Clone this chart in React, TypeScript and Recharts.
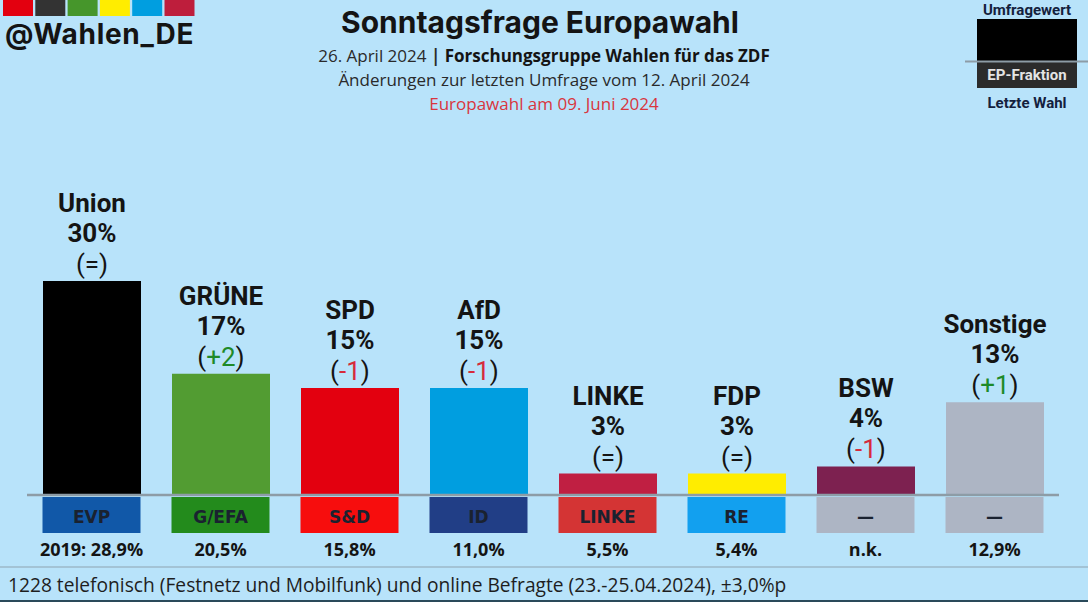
import { Bar, BarChart, Cell, LabelList, ReferenceLine, XAxis, YAxis } from "recharts";

// Sonntagsfrage Europawahl, Forschungsgruppe Wahlen, 26.04.2024
const parties = ["Union", "GRÜNE", "SPD", "AfD", "LINKE", "FDP", "BSW", "Sonstige"];
const shares = [30, 17, 15, 15, 3, 3, 4, 13];
const changes = ["=", "+2", "-1", "-1", "=", "=", "-1", "+1"];
const fractions = ["EVP", "G/EFA", "S&D", "ID", "LINKE", "RE", "—", "—"];
const lastElection: (number | null)[] = [28.9, 20.5, 15.8, 11.0, 5.5, 5.4, null, 12.9];

const barColors = ["#000000", "#529c32", "#e3000f", "#009ee0", "#c01f42", "#ffed00", "#7d2150", "#adb5c4"];
const fractionColors = ["#1158a8", "#238b1c", "#f70d0d", "#213e86", "#d43434", "#12a0ef", "#adb5c4", "#adb5c4"];
const logoColors = ["#e3000f", "#333333", "#46962b", "#ffed00", "#009ee0", "#be1e3c"];

const BG = "#b8e3fa";
const INK = "#141414";
const GREEN = "#1e8a28";
const RED = "#d62b3a";

const data = parties.map((party, i) => ({ party, share: shares[i] }));

const fmt = (v: number) => v.toFixed(1).replace(".", ",") + "%";

function BarLabel(props: any) {
  const { x, y, width, value } = props;
  const i = parties.indexOf(value);
  const cx = Number(x) + Number(width) / 2;
  const top = Number(y);
  const ch = changes[i];
  const col = ch.startsWith("+") ? GREEN : ch.startsWith("-") ? RED : INK;
  return (
    <g fontFamily="Roboto" textAnchor="middle">
      <text x={cx} y={top - 69} fontSize={26} fontWeight={700} fill={INK}>
        {value}
      </text>
      <text x={cx} y={top - 39} fontSize={26} fontWeight={700} fill={INK}>
        {shares[i]}%
      </text>
      <text x={cx} y={top - 8} fontSize={26} fill={INK}>
        (<tspan fill={col}>{ch}</tspan>)
      </text>
    </g>
  );
}

function FractionTick(props: any) {
  const { x, y, payload } = props;
  const i = payload.index;
  const last = lastElection[i];
  const lastText = last == null ? "n.k." : (i === 0 ? "2019: " : "") + fmt(last);
  return (
    <g textAnchor="middle">
      <rect x={x - 49} y={y + 2} width={98} height={36} fill={fractionColors[i]} />
      <text x={x} y={y + 28} fontFamily="DejaVu Sans" fontSize={17} fontWeight={700} fill="#1a2230">
        {fractions[i]}
      </text>
      <text x={x} y={y + 61} fontFamily="Open Sans" fontSize={18} fontWeight={700} fill={INK}>
        {lastText}
      </text>
    </g>
  );
}

export default function App() {
  return (
    <div style={{ position: "relative", width: 1088, height: 602, background: BG, overflow: "hidden" }}>
      <style>{"body{margin:0}"}</style>
      <BarChart
        width={1088}
        height={602}
        data={data}
        margin={{ top: 281, right: 29, bottom: 0, left: 27 }}
      >
        <YAxis hide domain={[0, 30]} />
        <XAxis
          dataKey="party"
          height={107}
          axisLine={false}
          tickLine={false}
          tickSize={0}
          tickMargin={0}
          interval={0}
          tick={<FractionTick />}
        />
        <Bar dataKey="share" barSize={98} isAnimationActive={false}>
          {data.map((_, i) => (
            <Cell key={i} fill={barColors[i]} />
          ))}
          <LabelList dataKey="party" content={<BarLabel />} />
        </Bar>
        <ReferenceLine y={0} stroke="#8d9ca6" strokeWidth={2.5} />
      </BarChart>

      <svg width={1088} height={602} style={{ position: "absolute", left: 0, top: 0, pointerEvents: "none" }}>
        {logoColors.map((c, i) => (
          <rect key={c} x={3 + i * 32.3} y={0} width={30} height={16} fill={c} />
        ))}
        <text x={5} y={44} fontFamily="Inter" fontSize={28} fontWeight={700} letterSpacing={0.7} fill={INK}>
          @Wahlen_DE
        </text>

        <g textAnchor="middle">
          <text x={540} y={33} fontFamily="Inter" fontSize={30} fontWeight={700} fill={INK}>
            Sonntagsfrage Europawahl
          </text>
          <text x={544} y={62} fontFamily="Open Sans" fontSize={17} fill="#2a2a2a">
            26. April 2024 <tspan fontWeight={700}>|</tspan>{" "}
            <tspan fontWeight={700} fill={INK}>Forschungsgruppe Wahlen für das ZDF</tspan>
          </text>
          <text x={544} y={86} fontFamily="Open Sans" fontSize={17} fill="#2a2a2a">
            Änderungen zur letzten Umfrage vom 12. April 2024
          </text>
          <text x={544} y={110} fontFamily="Open Sans" fontSize={17} fill="#d9363e">
            Europawahl am 09. Juni 2024
          </text>
        </g>

        <g textAnchor="middle" fontFamily="Roboto" fontSize={15} fontWeight={700}>
          <text x={1027} y={15} fill="#14213d">Umfragewert</text>
          <rect x={977} y={19} width={100} height={42} fill="#000000" />
          <rect x={977} y={62} width={100} height={26} fill="#2b2b2b" />
          <line x1={965} x2={1088} y1={61.5} y2={61.5} stroke="#8d9ca6" strokeWidth={2} />
          <text x={1027} y={80} fill="#e4e4e4">EP-Fraktion</text>
          <text x={1027} y={108} fill="#14213d">Letzte Wahl</text>
        </g>

        <line x1={0} x2={1088} y1={567} y2={567} stroke="#9db8c8" strokeWidth={1.5} />
        <text x={8} y={592} fontFamily="Open Sans" fontSize={19.2} fill="#1e1e1e">
          1228 telefonisch (Festnetz und Mobilfunk) und online Befragte (23.-25.04.2024), ±3,0%p
        </text>
        <rect x={0} y={600} width={1088} height={2} fill="#2a4a5a" />
      </svg>
    </div>
  );
}
